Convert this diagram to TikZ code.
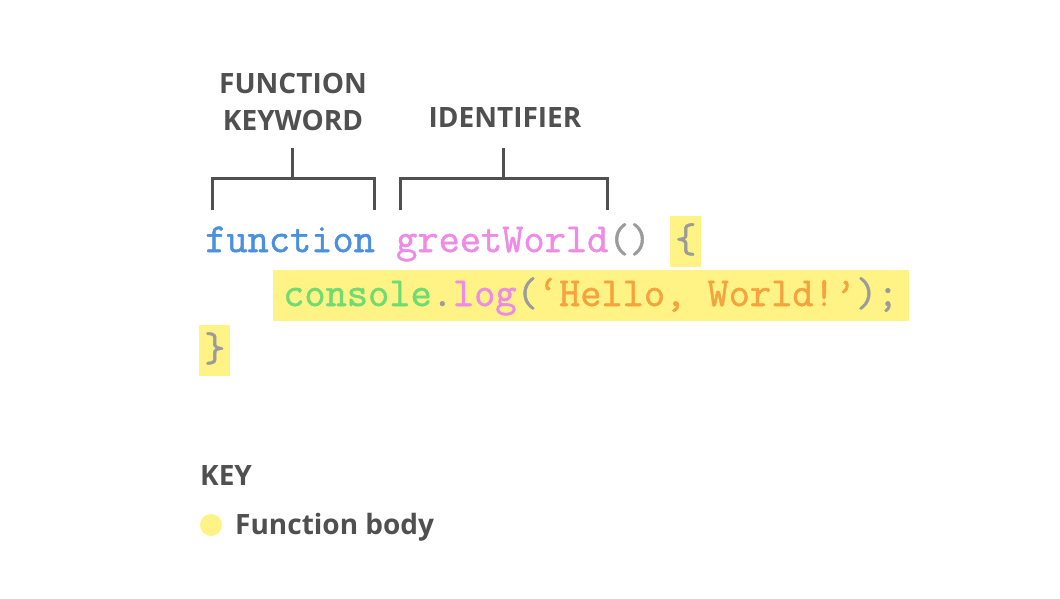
\documentclass[tikz,border=0pt]{standalone}
\usepackage{fontspec}
\setmainfont{Open Sans}
\newfontfamily\codefont{Latin Modern Mono}[FakeBold=1.2]
\definecolor{labelgray}{HTML}{505050}
\definecolor{kwblue}{HTML}{4A8FE0}
\definecolor{idpink}{HTML}{EE8BE6}
\definecolor{punctgray}{HTML}{9B9B9B}
\definecolor{callgreen}{HTML}{6EDB73}
\definecolor{strorange}{HTML}{F5A33E}
\definecolor{bodyyellow}{HTML}{FFF386}
\tikzset{
  headtext/.style={anchor=base, inner sep=0pt, text=labelgray, font=\fontsize{28}{34}\selectfont\bfseries},
  keytext/.style={anchor=base west, inner sep=0pt, text=labelgray, font=\fontsize{28}{34}\selectfont\bfseries},
  codeline/.style={anchor=base west, inner sep=0pt, font=\codefont\fontsize{41.2}{48}\selectfont},
  bodybox/.style={fill=bodyyellow, inner ysep=0pt, text height=36pt, text depth=15pt},
  keydot/.style={circle, fill=bodyyellow, inner sep=0pt, minimum size=22pt},
  bracketline/.style={line width=3pt, draw=labelgray, line cap=butt, line join=miter},
}
\begin{document}
\begin{tikzpicture}[x=1pt, y=-1pt]
\useasboundingbox (0,0) rectangle (1060,598);
\node[headtext] (kwtop) at (293,93) {FUNCTION};
\node[headtext] (kwlabel) at (293,130) {KEYWORD};
\node[headtext] (idlabel) at (505,127) {IDENTIFIER};
\coordinate (kwtip) at (292,148);
\coordinate (kwbar) at (292,178);
\coordinate (kwleft) at (212,210);
\coordinate (kwright) at (374,210);
\coordinate (idtip) at (503,148);
\coordinate (idbar) at (503,178);
\coordinate (idleft) at (400,210);
\coordinate (idright) at (607,210);
\draw[bracketline] (kwleft) |- (kwbar) -| (kwright);
\draw[bracketline] (kwbar) -- (kwtip);
\draw[bracketline] (idleft) |- (idbar) -| (idright);
\draw[bracketline] (idbar) -- (idtip);
\node[codeline] (sigline) at (205,252) {\textcolor{kwblue}{function} \textcolor{idpink}{greetWorld}\textcolor{punctgray}{()}};
\node[codeline, bodybox, inner xsep=5pt] (openbrace) at (670,252) {\textcolor{punctgray}{\{}};
\node[codeline, bodybox, inner xsep=10pt] (bodyline) at (273,306) {\textcolor{callgreen}{console}\textcolor{punctgray}{.}\textcolor{idpink}{log}\textcolor{punctgray}{(}\textcolor{strorange}{‘Hello, World!’}\textcolor{punctgray}{);}};
\node[codeline, bodybox, inner xsep=5pt] (closebrace) at (199,361) {\textcolor{punctgray}{\}}};
\node[keytext] (keyhead) at (200,485) {KEY};
\node[keydot] (keydot) at (211,525) {};
\node[keytext] (keyentry) at (235,534) {Function body};
\end{tikzpicture}
\end{document}
